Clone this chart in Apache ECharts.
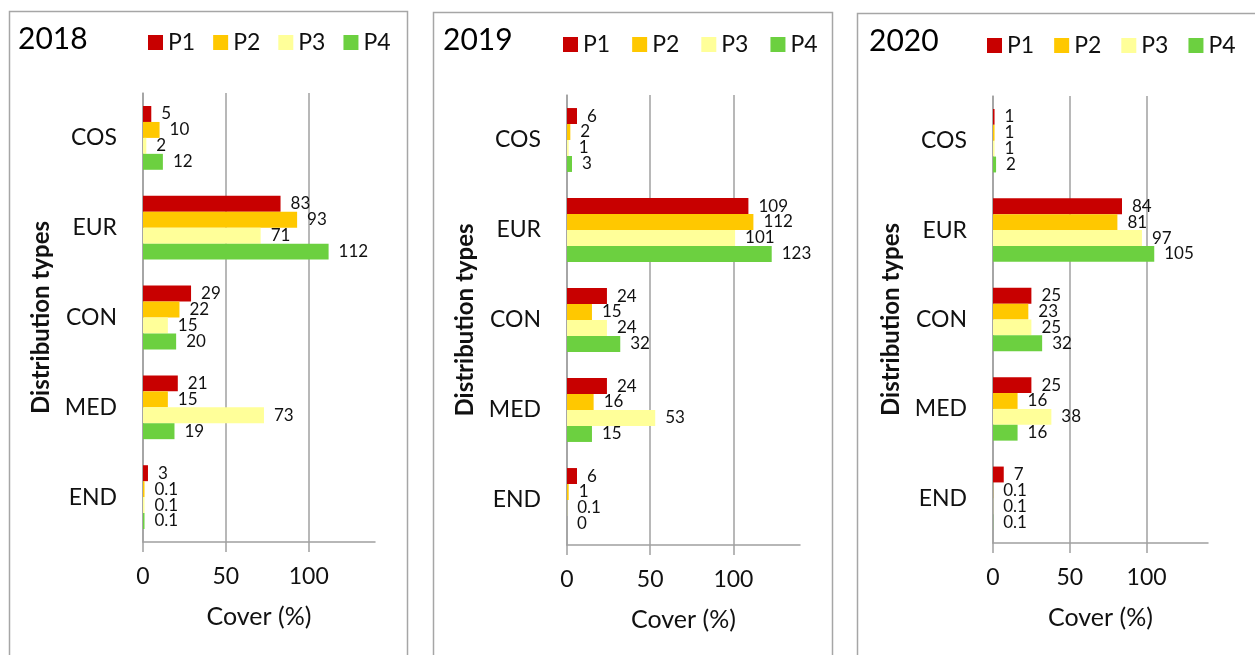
<!DOCTYPE html>
<html>
<head>
<meta charset="utf-8">
<script src="https://cdn.jsdelivr.net/npm/echarts@6/dist/echarts.min.js"></script>
<style>html,body{margin:0;padding:0;background:#fff}#c{width:1255px;height:655px}</style>
</head>
<body>
<div id="c"></div>
<script>
const years = ['2018', '2019', '2020'];
const categories = ['COS', 'EUR', 'CON', 'MED', 'END'];
const seriesNames = ['P1', 'P2', 'P3', 'P4'];
const xTicks = [0, 50, 100];

// values per year, per series, in category order COS, EUR, CON, MED, END
const p1_2018 = [5, 83, 29, 21, 3];
const p2_2018 = [10, 93, 22, 15, 0.1];
const p3_2018 = [2, 71, 15, 73, 0.1];
const p4_2018 = [12, 112, 20, 19, 0.1];

const p1_2019 = [6, 109, 24, 24, 6];
const p2_2019 = [2, 112, 15, 16, 1];
const p3_2019 = [1, 101, 24, 53, 0.1];
const p4_2019 = [3, 123, 32, 15, 0];

const p1_2020 = [1, 84, 25, 25, 7];
const p2_2020 = [1, 81, 23, 16, 0.1];
const p3_2020 = [1, 97, 25, 38, 0.1];
const p4_2020 = [2, 105, 32, 16, 0.1];

const yearData = [
  [p1_2018, p2_2018, p3_2018, p4_2018],
  [p1_2019, p2_2019, p3_2019, p4_2019],
  [p1_2020, p2_2020, p3_2020, p4_2020]
];

const colors = ['#C80000', '#FFC800', '#FFFF99', '#6CD040'];
const FONT = 'Lato';
const txt = '#111';

const panels = [
  {box: [9.5, 11.5, 398], grid: {left: 143, top: 93, width: 232, height: 449}, title: [18, 24], legend: [148, 31, 18], minBar: 1.5},
  {box: [433.5, 12.5, 399], grid: {left: 567, top: 95, width: 233, height: 450}, title: [443, 25], legend: [563, 33, 22], minBar: 0},
  {box: [857.5, 13.5, 420], grid: {left: 993, top: 96, width: 215, height: 447}, title: [869, 26], legend: [987, 34, 20], minBar: 0}
];

const option = {
  animation: false,
  textStyle: {fontFamily: FONT},
  color: colors,
  title: [], legend: [], grid: [], xAxis: [], yAxis: [], series: [],
  graphic: []
};

panels.forEach((p, i) => {
  option.graphic.push({
    type: 'rect', silent: true, z: -1,
    shape: {x: p.box[0], y: p.box[1], width: p.box[2], height: 700},
    style: {fill: 'none', stroke: '#a6a6a6', lineWidth: 1.5}
  });
  option.title.push({
    text: years[i], left: p.title[0], top: p.title[1], padding: 0,
    textStyle: {fontFamily: FONT, fontSize: 30, fontWeight: 'normal', color: '#000'}
  });
  option.legend.push({
    data: seriesNames, left: p.legend[0], top: p.legend[1], padding: 0,
    itemWidth: 15, itemHeight: 15, itemGap: p.legend[2], icon: 'rect',
    textStyle: {fontFamily: FONT, fontSize: 23, color: txt, padding: [0, 0, 0, 0]}
  });
  option.grid.push(Object.assign({containLabel: false}, p.grid));
  option.xAxis.push({
    type: 'value', gridIndex: i, min: 0, max: 140, interval: 50,
    name: 'Cover (%)', nameLocation: 'middle', nameGap: 62,
    nameTextStyle: {fontFamily: FONT, fontSize: 25, color: txt},
    axisLine: {show: true, lineStyle: {color: '#a0a0a0', width: 1.5}},
    axisTick: {show: true, length: 10, customValues: xTicks, lineStyle: {color: '#a0a0a0', width: 1.5}},
    axisLabel: {
      margin: 23, fontFamily: FONT, fontSize: 23, color: txt, customValues: xTicks
    },
    splitLine: {show: true, lineStyle: {color: '#a0a0a0', width: 1.5}}
  });
  option.yAxis.push({
    type: 'category', gridIndex: i, data: categories, inverse: true,
    name: 'Distribution types', nameLocation: 'middle', nameGap: 90,
    nameTextStyle: {fontFamily: FONT, fontSize: 24, fontWeight: 'bold', color: txt},
    axisLine: {show: true, lineStyle: {color: '#a0a0a0', width: 1.5}},
    axisTick: {show: false},
    axisLabel: {margin: 26, fontFamily: FONT, fontSize: 23, color: txt}
  });
  seriesNames.forEach((nm, s) => {
    option.series.push({
      type: 'bar', name: nm, xAxisIndex: i, yAxisIndex: i,
      data: yearData[i][s],
      barCategoryGap: '29%', barGap: '0%', barMinHeight: p.minBar,
      itemStyle: {color: colors[s]},
      label: {show: true, position: 'right', distance: 10, fontFamily: FONT, fontSize: 17, color: txt}
    });
  });
});

const chart = echarts.init(document.getElementById('c'), null, {renderer: 'canvas'});
chart.setOption(option);
</script>
</body>
</html>
